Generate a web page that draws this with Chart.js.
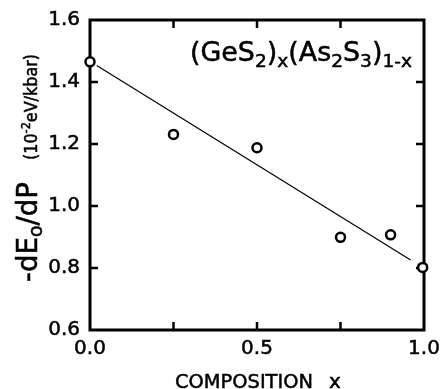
<!DOCTYPE html>
<html>
<head>
<meta charset="utf-8">
<script src="https://cdn.jsdelivr.net/npm/chart.js@4"></script>
<style>
  html, body { margin: 0; padding: 0; background: #fff; }
  #wrap { width: 442px; height: 389px; }
</style>
</head>
<body>
<div id="wrap"><canvas id="chart" width="442" height="389"></canvas></div>
<script>
const FONT = '"DejaVu Sans", "Liberation Sans", sans-serif';
const TICK = 8;

// measured points
const composition = [0.0, 0.25, 0.5, 0.75, 0.9, 0.996];
const dEdP = [1.465, 1.231, 1.188, 0.899, 0.907, 0.802];

// straight fit line, drawn between the end circles
const fitX = [0.02, 0.96];
const fitY = [1.453, 0.826];

const xLabelTicks = [0, 0.5, 1.0];
const xMinorTicks = [0.25, 0.5, 0.75];
const yMinorTicks = [0.8, 1.0, 1.2, 1.4];

const titleRuns = [
  { text: "(GeS", size: 26 }, { text: "2", size: 18, dy: 6 }, { text: ")", size: 26 },
  { text: "x", size: 18, dy: 6 }, { text: "(As", size: 26 }, { text: "2", size: 18, dy: 6 },
  { text: "S", size: 26 }, { text: "3", size: 18, dy: 6 }, { text: ")", size: 26 },
  { text: "1-x", size: 18, dy: 6 },
];
const yTitleRuns = [
  { text: "-dE", size: 28 }, { text: "o", size: 19, dy: 5 }, { text: "/dP", size: 28 },
];
const yUnitRuns = [
  { text: "(10", size: 17 }, { text: "-2", size: 12, dy: -7 }, { text: "eV/kbar)", size: 17 },
];

function drawRuns(ctx, runs, fitWidth) {
  let total = 0;
  runs.forEach((r) => {
    ctx.font = `${r.size}px ${FONT}`;
    r.w = ctx.measureText(r.text).width;
    total += r.w;
  });
  if (fitWidth) ctx.scale(fitWidth / total, 1);
  let cx = 0;
  runs.forEach((r) => {
    ctx.font = `${r.size}px ${FONT}`;
    ctx.fillText(r.text, cx, r.dy || 0);
    ctx.strokeText(r.text, cx, r.dy || 0);
    cx += r.w;
  });
}

const framePlugin = {
  id: "frame",
  beforeDatasetsDraw(chart) {
    const { ctx, chartArea: a, scales: { x, y } } = chart;
    ctx.save();
    ctx.strokeStyle = "#000";
    ctx.lineWidth = 3;
    ctx.strokeRect(a.left, a.top, a.right - a.left, a.bottom - a.top);
    ctx.lineWidth = 2.5;
    ctx.beginPath();
    xMinorTicks.forEach((v) => {
      const px = x.getPixelForValue(v);
      ctx.moveTo(px, a.bottom); ctx.lineTo(px, a.bottom - TICK);
      ctx.moveTo(px, a.top); ctx.lineTo(px, a.top + TICK);
    });
    yMinorTicks.forEach((v) => {
      const py = y.getPixelForValue(v);
      ctx.moveTo(a.left, py); ctx.lineTo(a.left + TICK, py);
      ctx.moveTo(a.right, py); ctx.lineTo(a.right - TICK, py);
    });
    ctx.stroke();
    ctx.restore();
  },
  afterDraw(chart) {
    const { ctx } = chart;
    ctx.save();
    ctx.fillStyle = "#000";
    ctx.strokeStyle = "#000";
    ctx.lineWidth = 0.5;
    ctx.textBaseline = "alphabetic";

    ctx.save();
    ctx.translate(190, 61);
    drawRuns(ctx, titleRuns, 222);
    ctx.restore();

    ctx.save();
    ctx.translate(175, 388);
    drawRuns(ctx, [{ text: "COMPOSITION", size: 20 }], 138);
    ctx.restore();
    ctx.save();
    ctx.translate(329, 388);
    drawRuns(ctx, [{ text: "x", size: 20 }]);
    ctx.restore();

    ctx.save();
    ctx.translate(37, 282);
    ctx.rotate(-Math.PI / 2);
    drawRuns(ctx, yTitleRuns, 100);
    ctx.restore();

    ctx.save();
    ctx.translate(37, 160);
    ctx.rotate(-Math.PI / 2);
    drawRuns(ctx, yUnitRuns, 106);
    ctx.restore();

    ctx.restore();
  },
};

new Chart(document.getElementById("chart"), {
  type: "scatter",
  data: {
    datasets: [
      {
        data: composition.map((v, i) => ({ x: v, y: dEdP[i] })),
        showLine: false,
        pointStyle: "circle",
        pointRadius: 4.5,
        pointBorderWidth: 2.5,
        borderColor: "#000",
        backgroundColor: "#fff",
        clip: false,
        order: 0,
      },
      {
        data: fitX.map((v, i) => ({ x: v, y: fitY[i] })),
        showLine: true,
        borderColor: "#000",
        borderWidth: 1.2,
        pointRadius: 0,
        order: 1,
      },
    ],
  },
  options: {
    responsive: false,
    animation: false,
    events: [],
    layout: { padding: { left: 0, top: 20, right: 18, bottom: 0 } },
    plugins: { legend: { display: false }, tooltip: { enabled: false } },
    scales: {
      x: {
        type: "linear",
        min: 0,
        max: 1,
        afterBuildTicks: (s) => { s.ticks = xLabelTicks.map((v) => ({ value: v })); },
        afterFit: (s) => { s.height = 59; s.paddingRight = 0; s.paddingLeft = 0; },
        grid: { display: false, drawTicks: false },
        border: { display: false },
        ticks: {
          color: "#000",
          padding: 7,
          maxRotation: 0,
          textStrokeColor: "#000",
          textStrokeWidth: 0.5,
          font: { family: FONT, size: 20 },
          callback: (v) => Number(v).toFixed(1),
        },
      },
      y: {
        type: "linear",
        min: 0.6,
        max: 1.6,
        afterFit: (s) => { s.width = 90; s.paddingTop = 0; s.paddingBottom = 0; },
        grid: { display: false, drawTicks: false },
        border: { display: false },
        ticks: {
          color: "#000",
          padding: 10,
          stepSize: 0.2,
          textStrokeColor: "#000",
          textStrokeWidth: 0.5,
          font: { family: FONT, size: 20 },
          callback: (v) => Number(v).toFixed(1),
        },
      },
    },
  },
  plugins: [framePlugin],
});
</script>
</body>
</html>
